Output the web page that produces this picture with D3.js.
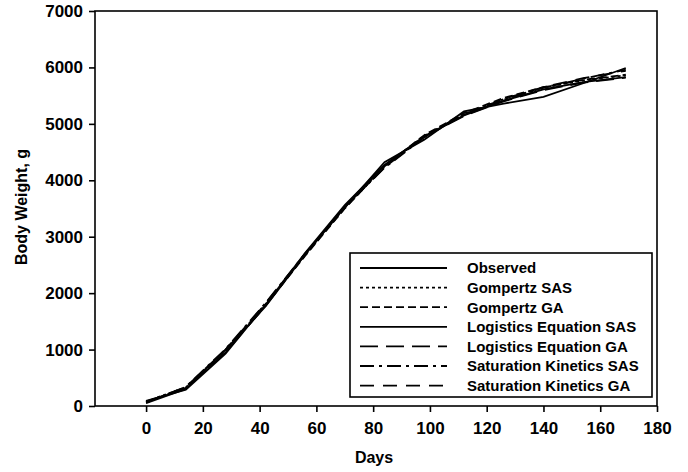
<!DOCTYPE html>
<html>
<head>
<meta charset="utf-8">
<script src="https://cdn.jsdelivr.net/npm/d3@7"></script>
<style>
  body { margin: 0; background: #fff; }
  svg text { font-family: "Liberation Sans", Arial, sans-serif; font-weight: bold; fill: #000; }
</style>
</head>
<body>
<div id="graf"></div>
<script>
// datos
const days = [0, 14, 28, 42, 56, 70, 84, 98, 112, 126, 140, 154, 169]
const observed = [50, 300, 1000, 1760, 2680, 3520, 4320, 4720, 5220, 5360, 5480, 5720, 5990]
const gompertzSAS = [80, 330, 980, 1800, 2670, 3510, 4240, 4790, 5170, 5440, 5640, 5770, 5860]
const gompertzGA = [70, 320, 960, 1780, 2660, 3500, 4250, 4800, 5190, 5460, 5650, 5780, 5870]
const logisticSAS = [90, 290, 930, 1790, 2710, 3560, 4270, 4780, 5150, 5410, 5610, 5740, 5830]
const logisticGA = [80, 310, 950, 1770, 2690, 3540, 4260, 4770, 5140, 5400, 5600, 5730, 5820]
const saturationSAS = [60, 340, 1010, 1820, 2700, 3530, 4220, 4760, 5160, 5430, 5640, 5800, 5960]
const saturationGA = [65, 335, 1000, 1810, 2690, 3520, 4230, 4770, 5170, 5440, 5650, 5810, 5940]
const seriesNames = ['Observed', 'Gompertz SAS', 'Gompertz GA', 'Logistics Equation SAS',
  'Logistics Equation GA', 'Saturation Kinetics SAS', 'Saturation Kinetics GA']
const seriesValues = [observed, gompertzSAS, gompertzGA, logisticSAS, logisticGA, saturationSAS, saturationGA]
const dashes = [null, '3,3', '8,4', null, '18,8', '14,5,3,5', '14,9']
const xTicks = [0, 20, 40, 60, 80, 100, 120, 140, 160, 180]
const yTicks = [0, 1000, 2000, 3000, 4000, 5000, 6000, 7000]

const anchoTotal = 688
const altoTotal = 472
const margin = { top: 11, left: 95, right: 31, bottom: 66 }
const ancho = anchoTotal - margin.left - margin.right
const alto = altoTotal - margin.top - margin.bottom

const svg = d3.select('#graf')
  .append('svg')
  .attr('width', anchoTotal)
  .attr('height', altoTotal)

const g = svg.append('g')
  .attr('transform', `translate(${margin.left}, ${margin.top})`)

// escaladores
const x = d3.scaleLinear().domain([-18, 180]).range([0, ancho])
const y = d3.scaleLinear().domain([0, 7000]).range([alto, 0])

// marco
g.append('rect')
  .attr('width', ancho)
  .attr('height', alto)
  .attr('fill', 'none')
  .attr('stroke', '#000')
  .attr('stroke-width', 1.6)

// ejes
const ejeX = g.append('g')
  .attr('transform', `translate(0, ${alto})`)
  .call(d3.axisBottom(x).tickValues(xTicks).tickSize(6).tickPadding(10))
ejeX.select('.domain').remove()
ejeX.selectAll('line').attr('stroke-width', 1.6)
ejeX.selectAll('text').style('font-size', '17px')

const ejeY = g.append('g')
  .call(d3.axisLeft(y).tickValues(yTicks).tickFormat(d3.format('d')).tickSize(6).tickPadding(6))
ejeY.select('.domain').remove()
ejeY.selectAll('line').attr('stroke-width', 1.6)
ejeY.selectAll('text').style('font-size', '17px')

// titulos
svg.append('text')
  .attr('x', 374)
  .attr('y', 463)
  .attr('text-anchor', 'middle')
  .style('font-size', '16px')
  .text('Days')

svg.append('text')
  .attr('transform', 'translate(27, 207) rotate(-90)')
  .attr('text-anchor', 'middle')
  .style('font-size', '16px')
  .text('Body Weight, g')

// lineas
const linea = d3.line()
  .x((d, i) => x(days[i]))
  .y((d) => y(d))

seriesValues.forEach((vals, k) => {
  g.append('path')
    .datum(vals)
    .attr('d', linea)
    .attr('fill', 'none')
    .attr('stroke', '#000')
    .attr('stroke-width', 1.8)
    .attr('stroke-dasharray', dashes[k])
})

// leyenda
const leyenda = svg.append('g')
leyenda.append('rect')
  .attr('x', 350)
  .attr('y', 253)
  .attr('width', 302)
  .attr('height', 144)
  .attr('fill', '#fff')
  .attr('stroke', '#000')
  .attr('stroke-width', 1.6)

seriesNames.forEach((name, k) => {
  const yy = 268 + k * 19.6
  leyenda.append('line')
    .attr('x1', 360)
    .attr('x2', 447)
    .attr('y1', yy)
    .attr('y2', yy)
    .attr('stroke', '#000')
    .attr('stroke-width', 1.8)
    .attr('stroke-dasharray', dashes[k])
  leyenda.append('text')
    .attr('x', 467)
    .attr('y', yy)
    .attr('dy', '0.36em')
    .style('font-size', '15px')
    .text(name)
})
</script>
</body>
</html>
